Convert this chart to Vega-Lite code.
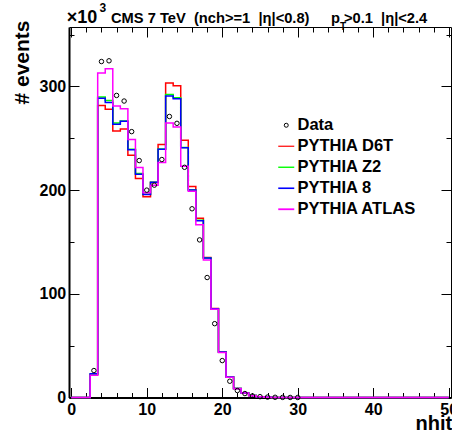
{
  "$schema": "https://vega.github.io/schema/vega-lite/v6.json",
  "width": 382,
  "height": 370.5,
  "autosize": {"type": "none"},
  "padding": {"left": 69, "top": 27, "right": 1, "bottom": 38.5},
  "background": "white",
  "config": {
    "view": {"stroke": null},
    "font": "Liberation Sans",
    "axis": {"grid": false, "tickColor": "black", "domainColor": "black", "labelColor": "black", "titleColor": "black", "labelFont": "Liberation Sans", "titleFont": "Liberation Sans", "labelFontWeight": "bold", "titleFontWeight": "bold", "labelBound": false, "labelFlush": false, "labelOverlap": false}
  },
  "datasets": {
    "hist": [
      {"nhits": 0, "value": 0, "series": "PYTHIA D6T"}, {"nhits": 2, "value": 0, "series": "PYTHIA D6T"},
      {"nhits": 3, "value": 22, "series": "PYTHIA D6T"}, {"nhits": 4, "value": 281.7, "series": "PYTHIA D6T"},
      {"nhits": 5, "value": 277.9, "series": "PYTHIA D6T"}, {"nhits": 6, "value": 257, "series": "PYTHIA D6T"},
      {"nhits": 7, "value": 259, "series": "PYTHIA D6T"}, {"nhits": 8, "value": 233.7, "series": "PYTHIA D6T"},
      {"nhits": 9, "value": 211.2, "series": "PYTHIA D6T"}, {"nhits": 10, "value": 193.6, "series": "PYTHIA D6T"},
      {"nhits": 11, "value": 207.4, "series": "PYTHIA D6T"}, {"nhits": 12, "value": 244, "series": "PYTHIA D6T"},
      {"nhits": 13, "value": 303.2, "series": "PYTHIA D6T"}, {"nhits": 14, "value": 300.6, "series": "PYTHIA D6T"},
      {"nhits": 15, "value": 248, "series": "PYTHIA D6T"}, {"nhits": 16, "value": 203.5, "series": "PYTHIA D6T"},
      {"nhits": 17, "value": 172.8, "series": "PYTHIA D6T"}, {"nhits": 18, "value": 135, "series": "PYTHIA D6T"},
      {"nhits": 19, "value": 85.8, "series": "PYTHIA D6T"}, {"nhits": 20, "value": 44, "series": "PYTHIA D6T"},
      {"nhits": 21, "value": 20, "series": "PYTHIA D6T"}, {"nhits": 22, "value": 8.7, "series": "PYTHIA D6T"},
      {"nhits": 23, "value": 4.5, "series": "PYTHIA D6T"}, {"nhits": 24, "value": 1.9, "series": "PYTHIA D6T"},
      {"nhits": 25, "value": 0.8, "series": "PYTHIA D6T"}, {"nhits": 26, "value": 0.3, "series": "PYTHIA D6T"},
      {"nhits": 27, "value": 0.1, "series": "PYTHIA D6T"}, {"nhits": 28, "value": 0.05, "series": "PYTHIA D6T"},
      {"nhits": 29, "value": 0, "series": "PYTHIA D6T"}, {"nhits": 50, "value": 0, "series": "PYTHIA D6T"},

      {"nhits": 0, "value": 0, "series": "PYTHIA Z2"}, {"nhits": 2, "value": 0, "series": "PYTHIA Z2"},
      {"nhits": 3, "value": 22.5, "series": "PYTHIA Z2"}, {"nhits": 4, "value": 289.7, "series": "PYTHIA Z2"},
      {"nhits": 5, "value": 286.5, "series": "PYTHIA Z2"}, {"nhits": 6, "value": 264.7, "series": "PYTHIA Z2"},
      {"nhits": 7, "value": 266.7, "series": "PYTHIA Z2"}, {"nhits": 8, "value": 239.4, "series": "PYTHIA Z2"},
      {"nhits": 9, "value": 216, "series": "PYTHIA Z2"}, {"nhits": 10, "value": 196, "series": "PYTHIA Z2"},
      {"nhits": 11, "value": 207.7, "series": "PYTHIA Z2"}, {"nhits": 12, "value": 239.7, "series": "PYTHIA Z2"},
      {"nhits": 13, "value": 292.3, "series": "PYTHIA Z2"}, {"nhits": 14, "value": 289, "series": "PYTHIA Z2"},
      {"nhits": 15, "value": 241, "series": "PYTHIA Z2"}, {"nhits": 16, "value": 200, "series": "PYTHIA Z2"},
      {"nhits": 17, "value": 171, "series": "PYTHIA Z2"}, {"nhits": 18, "value": 134.5, "series": "PYTHIA Z2"},
      {"nhits": 19, "value": 85.6, "series": "PYTHIA Z2"}, {"nhits": 20, "value": 43.9, "series": "PYTHIA Z2"},
      {"nhits": 21, "value": 19.9, "series": "PYTHIA Z2"}, {"nhits": 22, "value": 8.6, "series": "PYTHIA Z2"},
      {"nhits": 23, "value": 4.5, "series": "PYTHIA Z2"}, {"nhits": 24, "value": 1.9, "series": "PYTHIA Z2"},
      {"nhits": 25, "value": 0.8, "series": "PYTHIA Z2"}, {"nhits": 26, "value": 0.3, "series": "PYTHIA Z2"},
      {"nhits": 27, "value": 0.1, "series": "PYTHIA Z2"}, {"nhits": 28, "value": 0.05, "series": "PYTHIA Z2"},
      {"nhits": 29, "value": 0, "series": "PYTHIA Z2"}, {"nhits": 50, "value": 0, "series": "PYTHIA Z2"},

      {"nhits": 0, "value": 0, "series": "PYTHIA 8"}, {"nhits": 2, "value": 0, "series": "PYTHIA 8"},
      {"nhits": 3, "value": 22.8, "series": "PYTHIA 8"}, {"nhits": 4, "value": 288.5, "series": "PYTHIA 8"},
      {"nhits": 5, "value": 284.6, "series": "PYTHIA 8"}, {"nhits": 6, "value": 263.5, "series": "PYTHIA 8"},
      {"nhits": 7, "value": 266.5, "series": "PYTHIA 8"}, {"nhits": 8, "value": 239, "series": "PYTHIA 8"},
      {"nhits": 9, "value": 215.4, "series": "PYTHIA 8"}, {"nhits": 10, "value": 195.8, "series": "PYTHIA 8"},
      {"nhits": 11, "value": 207.5, "series": "PYTHIA 8"}, {"nhits": 12, "value": 239.5, "series": "PYTHIA 8"},
      {"nhits": 13, "value": 290.7, "series": "PYTHIA 8"}, {"nhits": 14, "value": 288, "series": "PYTHIA 8"},
      {"nhits": 15, "value": 240.8, "series": "PYTHIA 8"}, {"nhits": 16, "value": 200.2, "series": "PYTHIA 8"},
      {"nhits": 17, "value": 170.5, "series": "PYTHIA 8"}, {"nhits": 18, "value": 134.6, "series": "PYTHIA 8"},
      {"nhits": 19, "value": 85.7, "series": "PYTHIA 8"}, {"nhits": 20, "value": 43.9, "series": "PYTHIA 8"},
      {"nhits": 21, "value": 19.8, "series": "PYTHIA 8"}, {"nhits": 22, "value": 8.6, "series": "PYTHIA 8"},
      {"nhits": 23, "value": 4.4, "series": "PYTHIA 8"}, {"nhits": 24, "value": 1.9, "series": "PYTHIA 8"},
      {"nhits": 25, "value": 0.8, "series": "PYTHIA 8"}, {"nhits": 26, "value": 0.3, "series": "PYTHIA 8"},
      {"nhits": 27, "value": 0.1, "series": "PYTHIA 8"}, {"nhits": 28, "value": 0.05, "series": "PYTHIA 8"},
      {"nhits": 29, "value": 0, "series": "PYTHIA 8"}, {"nhits": 50, "value": 0, "series": "PYTHIA 8"},

      {"nhits": 0, "value": 0, "series": "PYTHIA ATLAS"}, {"nhits": 2, "value": 0, "series": "PYTHIA ATLAS"},
      {"nhits": 3, "value": 21.5, "series": "PYTHIA ATLAS"}, {"nhits": 4, "value": 313, "series": "PYTHIA ATLAS"},
      {"nhits": 5, "value": 317, "series": "PYTHIA ATLAS"}, {"nhits": 6, "value": 281, "series": "PYTHIA ATLAS"},
      {"nhits": 7, "value": 278.5, "series": "PYTHIA ATLAS"}, {"nhits": 8, "value": 248.7, "series": "PYTHIA ATLAS"},
      {"nhits": 9, "value": 221.8, "series": "PYTHIA ATLAS"}, {"nhits": 10, "value": 197.4, "series": "PYTHIA ATLAS"},
      {"nhits": 11, "value": 204.8, "series": "PYTHIA ATLAS"}, {"nhits": 12, "value": 226.6, "series": "PYTHIA ATLAS"},
      {"nhits": 13, "value": 264.7, "series": "PYTHIA ATLAS"}, {"nhits": 14, "value": 260.9, "series": "PYTHIA ATLAS"},
      {"nhits": 15, "value": 223, "series": "PYTHIA ATLAS"}, {"nhits": 16, "value": 199, "series": "PYTHIA ATLAS"},
      {"nhits": 17, "value": 166.5, "series": "PYTHIA ATLAS"}, {"nhits": 18, "value": 132.7, "series": "PYTHIA ATLAS"},
      {"nhits": 19, "value": 85, "series": "PYTHIA ATLAS"}, {"nhits": 20, "value": 43.5, "series": "PYTHIA ATLAS"},
      {"nhits": 21, "value": 19.5, "series": "PYTHIA ATLAS"}, {"nhits": 22, "value": 8.4, "series": "PYTHIA ATLAS"},
      {"nhits": 23, "value": 4.3, "series": "PYTHIA ATLAS"}, {"nhits": 24, "value": 1.8, "series": "PYTHIA ATLAS"},
      {"nhits": 25, "value": 0.7, "series": "PYTHIA ATLAS"}, {"nhits": 26, "value": 0.3, "series": "PYTHIA ATLAS"},
      {"nhits": 27, "value": 0.1, "series": "PYTHIA ATLAS"}, {"nhits": 28, "value": 0.05, "series": "PYTHIA ATLAS"},
      {"nhits": 29, "value": 0, "series": "PYTHIA ATLAS"}, {"nhits": 50, "value": 0, "series": "PYTHIA ATLAS"}
    ],
    "points": [
      {"nhits": 3, "value": 26, "series": "Data"}, {"nhits": 4, "value": 324, "series": "Data"},
      {"nhits": 5, "value": 324.7, "series": "Data"}, {"nhits": 6, "value": 291.3, "series": "Data"},
      {"nhits": 7, "value": 285.9, "series": "Data"}, {"nhits": 8, "value": 256.4, "series": "Data"},
      {"nhits": 9, "value": 228.5, "series": "Data"}, {"nhits": 10, "value": 200, "series": "Data"},
      {"nhits": 11, "value": 204.8, "series": "Data"}, {"nhits": 12, "value": 229.5, "series": "Data"},
      {"nhits": 13, "value": 271, "series": "Data"}, {"nhits": 14, "value": 264.4, "series": "Data"},
      {"nhits": 15, "value": 222, "series": "Data"}, {"nhits": 16, "value": 182, "series": "Data"},
      {"nhits": 17, "value": 152, "series": "Data"}, {"nhits": 18, "value": 115.7, "series": "Data"},
      {"nhits": 19, "value": 71.2, "series": "Data"}, {"nhits": 20, "value": 35.6, "series": "Data"},
      {"nhits": 21, "value": 15.7, "series": "Data"}, {"nhits": 22, "value": 6.7, "series": "Data"},
      {"nhits": 23, "value": 3.8, "series": "Data"}, {"nhits": 24, "value": 1.5, "series": "Data"},
      {"nhits": 25, "value": 0.8, "series": "Data"}, {"nhits": 26, "value": 0.4, "series": "Data"},
      {"nhits": 27, "value": 0.2, "series": "Data"}, {"nhits": 28, "value": 0.1, "series": "Data"},
      {"nhits": 29, "value": 0.05, "series": "Data"}, {"nhits": 30, "value": 0.02, "series": "Data"}
    ]
  },
  "resolve": {"axis": {"x": "independent", "y": "independent"}},
  "layer": [
    {
      "data": {"name": "hist"},
      "mark": {"type": "line", "interpolate": "step", "strokeWidth": 1.5},
      "encoding": {
        "x": {"field": "nhits", "type": "quantitative",
          "scale": {"domain": [-0.3, 50.3], "nice": false, "zero": false},
          "axis": {"orient": "bottom", "values": [0, 10, 20, 30, 40, 50], "tickSize": -10, "tickWidth": 1, "domainWidth": 2,
            "labelFontSize": 16, "labelPadding": 14, "labelBaseline": "top",
            "title": "nhits", "titleFontSize": 20, "titleX": 346, "titleY": 32, "titleAlign": "left", "titleBaseline": "alphabetic", "titleAnchor": null}},
        "y": {"field": "value", "type": "quantitative",
          "scale": {"domain": [0, 357.3], "nice": false, "zero": true},
          "axis": {"orient": "left", "values": [0, 100, 200, 300], "tickSize": -10, "tickWidth": 1, "domainWidth": 2,
            "labelFontSize": 16, "labelPadding": 13.3, "labelBaseline": "middle",
            "title": "# events", "titleFontSize": 21, "titleAngle": 270, "titleX": -41, "titleY": -7, "titleAlign": "right", "titleBaseline": "alphabetic", "titleAnchor": null}},
        "stroke": {"field": "series", "type": "nominal", "legend": null,
          "scale": {"domain": ["PYTHIA D6T", "PYTHIA Z2", "PYTHIA 8", "PYTHIA ATLAS"], "range": ["#ff0000", "#00ff00", "#0000ff", "#ff00ff"]}}
      }
    },
    {
      "data": {"name": "points"},
      "mark": {"type": "point", "filled": false, "size": 20, "opacity": 1},
      "encoding": {
        "x": {"field": "nhits", "type": "quantitative",
          "axis": {"orient": "bottom", "values": [2, 4, 6, 8, 12, 14, 16, 18, 22, 24, 26, 28, 32, 34, 36, 38, 42, 44, 46, 48], "tickSize": -5, "tickWidth": 1, "domain": false, "labels": false, "title": null}},
        "y": {"field": "value", "type": "quantitative",
          "axis": {"orient": "left", "values": [50, 150, 250, 350], "tickSize": -5, "tickWidth": 1, "domain": false, "labels": false, "title": null}},
        "color": {"field": "series", "type": "nominal",
          "scale": {"domain": ["Data", "PYTHIA D6T", "PYTHIA Z2", "PYTHIA 8", "PYTHIA ATLAS"], "range": ["#000000", "#ff0000", "#00ff00", "#0000ff", "#ff00ff"]},
          "legend": {"orient": "none", "legendX": 209, "legendY": 90, "title": null, "padding": 0, "symbolSize": 16, "labelFont": "Liberation Sans", "labelFontWeight": "bold", "labelFontSize": 16.5, "labelColor": "black", "labelOffset": 3, "rowPadding": 4, "symbolFillColor": "transparent"}},
        "shape": {"field": "series", "type": "nominal",
          "scale": {"domain": ["Data", "PYTHIA D6T", "PYTHIA Z2", "PYTHIA 8", "PYTHIA ATLAS"], "range": ["circle", "M-4,0H4", "M-4,0H4", "M-4,0H4", "M-4,0H4"]},
          "legend": {"orient": "none", "legendX": 209, "legendY": 90, "title": null}},
        "strokeWidth": {"field": "series", "type": "nominal",
          "scale": {"domain": ["Data", "PYTHIA D6T", "PYTHIA Z2", "PYTHIA 8", "PYTHIA ATLAS"], "range": [1, 1.8, 1.8, 1.8, 1.8]},
          "legend": {"orient": "none", "legendX": 209, "legendY": 90, "title": null}}
      }
    },
    {
      "data": {"values": [{}]},
      "mark": {"type": "text", "align": "left", "baseline": "alphabetic", "font": "Liberation Sans", "fontWeight": "bold", "fontSize": 18, "color": "black"},
      "encoding": {
        "x": {"datum": -0.6, "type": "quantitative",
          "axis": {"orient": "top", "values": [0, 10, 20, 30, 40, 50], "tickSize": -10, "tickWidth": 1, "domainWidth": 1, "labels": false, "title": null}},
        "y": {"datum": 361, "type": "quantitative",
          "axis": {"orient": "right", "values": [0, 100, 200, 300], "tickSize": -10, "tickWidth": 1, "domainWidth": 1, "labels": false, "title": null}},
        "text": {"value": "×10"}
      }
    },
    {
      "data": {"values": [{}]},
      "mark": {"type": "text", "align": "left", "baseline": "alphabetic", "font": "Liberation Sans", "fontWeight": "bold", "fontSize": 12, "color": "black"},
      "encoding": {
        "x": {"datum": 3.74, "type": "quantitative",
          "axis": {"orient": "top", "values": [2, 4, 6, 8, 12, 14, 16, 18, 22, 24, 26, 28, 32, 34, 36, 38, 42, 44, 46, 48], "tickSize": -5, "tickWidth": 1, "domain": false, "labels": false, "title": null}},
        "y": {"datum": 372.2, "type": "quantitative",
          "axis": {"orient": "right", "values": [50, 150, 250, 350], "tickSize": -5, "tickWidth": 1, "domain": false, "labels": false, "title": null}},
        "text": {"value": "3"}
      }
    },
    {
      "data": {"values": [{}]},
      "mark": {"type": "text", "align": "left", "baseline": "alphabetic", "font": "Liberation Sans", "fontWeight": "bold", "fontSize": 14.7, "color": "black"},
      "encoding": {
        "x": {"datum": 5.26, "type": "quantitative", "axis": null},
        "y": {"datum": 361, "type": "quantitative", "axis": null},
        "text": {"value": "CMS 7 TeV\u00a0\u00a0(nch>=1\u00a0\u00a0|η|<0.8)"}
      }
    },
    {
      "data": {"values": [{}]},
      "mark": {"type": "text", "align": "left", "baseline": "alphabetic", "font": "Liberation Sans", "fontWeight": "bold", "fontSize": 14.7, "color": "black"},
      "encoding": {
        "x": {"datum": 34.4, "type": "quantitative", "axis": null},
        "y": {"datum": 361, "type": "quantitative", "axis": null},
        "text": {"value": "p"}
      }
    },
    {
      "data": {"values": [{}]},
      "mark": {"type": "text", "align": "left", "baseline": "alphabetic", "font": "Liberation Sans", "fontWeight": "bold", "fontSize": 10, "color": "black"},
      "encoding": {
        "x": {"datum": 35.6, "type": "quantitative", "axis": null},
        "y": {"datum": 354.5, "type": "quantitative", "axis": null},
        "text": {"value": "T"}
      }
    },
    {
      "data": {"values": [{}]},
      "mark": {"type": "text", "align": "left", "baseline": "alphabetic", "font": "Liberation Sans", "fontWeight": "bold", "fontSize": 14.7, "color": "black"},
      "encoding": {
        "x": {"datum": 36.12, "type": "quantitative", "axis": null},
        "y": {"datum": 361, "type": "quantitative", "axis": null},
        "text": {"value": ">0.1\u00a0\u00a0|η|<2.4"}
      }
    }
  ]
}
